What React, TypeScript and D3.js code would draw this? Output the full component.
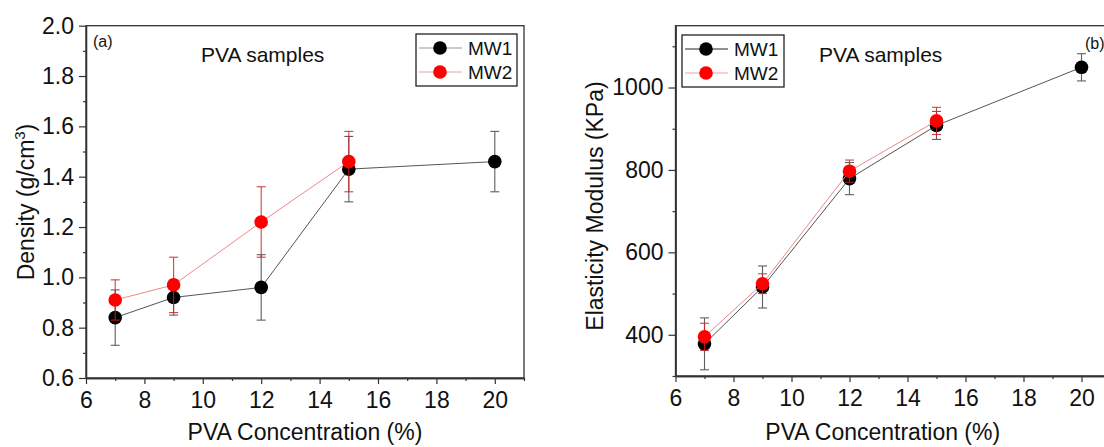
import React, { useEffect, useRef } from 'react';
import * as d3 from 'd3';

const FONT = '"Liberation Sans", Arial, Helvetica, sans-serif';

// PVA concentration (%)
const concMW1 = [7, 9, 12, 15, 20];
const concMW2 = [7, 9, 12, 15];

// (a) density, g/cm3
const densityMW1 = [0.84, 0.92, 0.96, 1.43, 1.46];
const densityMW1Err = [0.11, 0.07, 0.13, 0.13, 0.12];
const densityMW2 = [0.91, 0.97, 1.22, 1.46];
const densityMW2Err = [0.08, 0.11, 0.14, 0.12];

// (b) elasticity modulus, KPa
const modulusMW1 = [378, 516, 779, 908, 1049];
const modulusMW1Err = [63, 51, 39, 34, 33];
const modulusMW2 = [395, 524, 797, 919];
const modulusMW2Err = [33, 24, 27, 33];

const xTicks = [6, 8, 10, 12, 14, 16, 18, 20];
const xMinor = [7, 9, 11, 13, 15, 17, 19, 21];
const densityTicks = [0.6, 0.8, 1.0, 1.2, 1.4, 1.6, 1.8, 2.0];
const densityMinor = [0.7, 0.9, 1.1, 1.3, 1.5, 1.7, 1.9];
const modulusTicks = [400, 600, 800, 1000];
const modulusMinor = [300, 500, 700, 900, 1100];

const seriesNames = ['MW1', 'MW2'];
const markerColors = ['#000000', '#ff0000'];
const lineColors = ['#555555', '#ee8888'];
const errColors = ['#444444', '#cc2222'];

const drawPanel = (svg, p) => {
	const g = svg.append('g');
	const x = p.x, y = p.y;
	const [x0, x1] = x.range();
	const [yb, yt] = y.range();

	// frame
	g.append('rect')
		.attr('x', x0).attr('y', yt)
		.attr('width', x1 - x0).attr('height', yb - yt)
		.attr('fill', 'none').attr('stroke', '#333').attr('stroke-width', 1.3);

	// axes
	const xAxis = g.append('g').attr('transform', `translate(0,${yb})`)
		.call(d3.axisBottom(x).tickValues(xTicks).tickSize(6).tickSizeOuter(0).tickPadding(8).tickFormat(d3.format('d')));
	g.append('g').attr('transform', `translate(0,${yb})`)
		.call(d3.axisBottom(x).tickValues(xMinor).tickSize(3).tickSizeOuter(0).tickFormat(() => ''));
	g.append('g').attr('transform', `translate(${x0},0)`)
		.call(d3.axisLeft(y).tickValues(p.yTicks).tickSize(7).tickSizeOuter(0).tickPadding(5).tickFormat(p.yFormat));
	g.append('g').attr('transform', `translate(${x0},0)`)
		.call(d3.axisLeft(y).tickValues(p.yMinor).tickSize(3).tickSizeOuter(0).tickFormat(() => ''));

	g.selectAll('.domain').attr('stroke', '#333').attr('stroke-width', 1.3);
	g.selectAll('.tick line').attr('stroke', '#333').attr('stroke-width', 1.2);
	g.selectAll('.tick text').attr('font-family', FONT).attr('font-size', 23).attr('fill', '#111');
	xAxis.selectAll('.tick text').attr('dy', '0.71em');

	// axis titles
	g.append('text')
		.text('PVA Concentration (%)')
		.attr('x', (x0 + Math.min(x1, p.xTitleRight || x1)) / 2)
		.attr('y', 440)
		.attr('text-anchor', 'middle')
		.attr('font-family', FONT).attr('font-size', 23).attr('fill', '#111');

	const yt2 = g.append('text')
		.attr('transform', `translate(${p.yTitleX},${p.yTitleY}) rotate(-90)`)
		.attr('text-anchor', 'middle')
		.attr('font-family', FONT).attr('font-size', 23).attr('fill', '#111');
	yt2.append('tspan').text(p.yTitle);
	if (p.yTitleSup) {
		yt2.append('tspan').text(p.yTitleSup).attr('font-size', 15).attr('dy', -9);
		yt2.append('tspan').text(')').attr('dy', 9);
	}

	// series
	p.series.forEach((s, k) => {
		const sg = g.append('g');
		const line = d3.line().x(d => x(d[0])).y(d => y(d[1]));
		const pts = s.xs.map((v, i) => [v, s.ys[i], s.err[i]]);
		sg.append('path').attr('d', line(pts))
			.attr('fill', 'none').attr('stroke', lineColors[k]).attr('stroke-width', 1);
		const eb = sg.selectAll('.err').data(pts).enter().append('g')
			.attr('stroke', errColors[k]).attr('stroke-width', 1.1).attr('opacity', 0.85);
		eb.append('line')
			.attr('x1', d => x(d[0])).attr('x2', d => x(d[0]))
			.attr('y1', d => y(d[1] - d[2])).attr('y2', d => y(d[1] + d[2]));
		eb.append('line')
			.attr('x1', d => x(d[0]) - 4.5).attr('x2', d => x(d[0]) + 4.5)
			.attr('y1', d => y(d[1] - d[2])).attr('y2', d => y(d[1] - d[2]));
		eb.append('line')
			.attr('x1', d => x(d[0]) - 4.5).attr('x2', d => x(d[0]) + 4.5)
			.attr('y1', d => y(d[1] + d[2])).attr('y2', d => y(d[1] + d[2]));
		sg.selectAll('.dot').data(pts).enter().append('circle')
			.attr('cx', d => x(d[0])).attr('cy', d => y(d[1]))
			.attr('r', 6.8).attr('fill', markerColors[k]);
	});

	// legend
	const L = p.legend;
	const lg = g.append('g');
	lg.append('rect')
		.attr('x', L.x).attr('y', L.y).attr('width', L.w).attr('height', L.h)
		.attr('fill', 'white').attr('stroke', '#222').attr('stroke-width', 1.3);
	seriesNames.forEach((name, k) => {
		const cy = L.y + 14 + k * 24;
		lg.append('line')
			.attr('x1', L.x + 3).attr('x2', L.x + 46).attr('y1', cy).attr('y2', cy)
			.attr('stroke', k === 0 ? (L.dark ? '#222' : '#999') : '#f0a0a0').attr('stroke-width', 1);
		lg.append('circle').attr('cx', L.x + 24).attr('cy', cy).attr('r', 6.8).attr('fill', markerColors[k]);
		lg.append('text').text(name)
			.attr('x', L.x + 52).attr('y', cy + 7)
			.attr('font-family', FONT).attr('font-size', 19).attr('fill', '#111');
	});

	// annotations
	g.append('text').text('PVA samples')
		.attr('x', p.samplesX).attr('y', 62)
		.attr('font-family', FONT).attr('font-size', 21).attr('fill', '#111');
	g.append('text').text(p.tag)
		.attr('x', p.tagX).attr('y', p.tagY)
		.attr('font-family', FONT).attr('font-size', 16).attr('fill', '#111');
};

const App = () => {
	const ref = useRef(null);

	useEffect(() => {
		const svg = d3.select(ref.current);
		svg.selectAll('*').remove();

		drawPanel(svg, {
			x: d3.scaleLinear().domain([6, 21]).range([86, 524]),
			y: d3.scaleLinear().domain([0.6, 2.0]).range([378, 25.7]),
			yTicks: densityTicks,
			yMinor: densityMinor,
			yFormat: d3.format('.1f'),
			yTitle: 'Density (g/cm',
			yTitleSup: '3',
			yTitleX: 34,
			yTitleY: 202,
			series: [
				{ xs: concMW1, ys: densityMW1, err: densityMW1Err },
				{ xs: concMW2, ys: densityMW2, err: densityMW2Err },
			],
			legend: { x: 416, y: 34, w: 101, h: 52, dark: false },
			samplesX: 201,
			tag: '(a)',
			tagX: 93,
			tagY: 47,
		});

		drawPanel(svg, {
			x: d3.scaleLinear().domain([6, 21]).range([675.5, 1110.5]),
			y: d3.scaleLinear().domain([300, 1150]).range([376, 25.7]),
			yTicks: modulusTicks,
			yMinor: modulusMinor,
			yFormat: d3.format('d'),
			yTitle: 'Elasticity Modulus (KPa)',
			yTitleX: 603,
			yTitleY: 206,
			series: [
				{ xs: concMW1, ys: modulusMW1, err: modulusMW1Err },
				{ xs: concMW2, ys: modulusMW2, err: modulusMW2Err },
			],
			legend: { x: 682, y: 35, w: 102, h: 52, dark: true },
			samplesX: 819,
			tag: '(b)',
			tagX: 1085,
			tagY: 49,
			xTitleRight: 1090,
		});
	}, []);

	return (
		<div style={{ position: 'absolute', left: 0, top: 0 }}>
			<svg ref={ref} width={1104} height={447} style={{ display: 'block', background: 'white' }} />
		</div>
	);
};

export default App;
